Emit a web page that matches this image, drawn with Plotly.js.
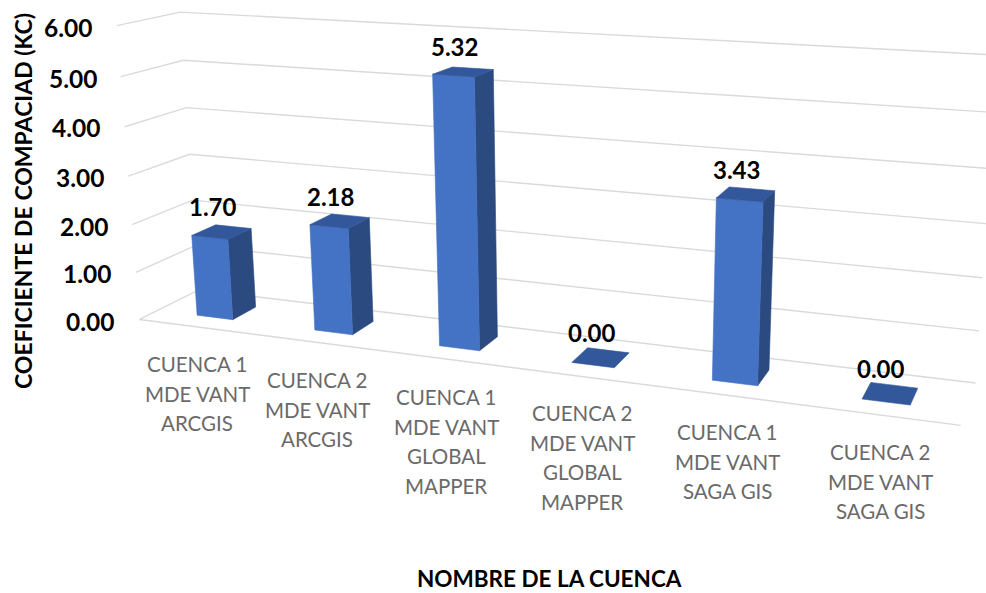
<!DOCTYPE html>
<html><head><meta charset="utf-8">
<script src="https://cdn.plot.ly/plotly-3.0.1.min.js"></script>
<style>html,body{margin:0;padding:0;background:#fff}#c{width:986px;height:593px}</style>
</head><body><div id="c"></div>
<script>
// ---- data ----
const categories = [
  ["CUENCA 1","MDE VANT","ARCGIS"],
  ["CUENCA 2","MDE VANT","ARCGIS"],
  ["CUENCA 1","MDE VANT","GLOBAL","MAPPER"],
  ["CUENCA 2","MDE VANT","GLOBAL","MAPPER"],
  ["CUENCA 1","MDE VANT","SAGA GIS"],
  ["CUENCA 2","MDE VANT","SAGA GIS"]
];
const values = [1.70, 2.18, 5.32, 0.00, 3.43, 0.00];
const yTicks = [0,1,2,3,4,5,6];
const yTitle = "COEFICIENTE DE COMPACIAD (KC)";
const xTitle = "NOMBRE DE LA CUENCA";

// ---- perspective fitted to the picture: (category frac, value, depth) -> pixel ----
const anchors = [
 [0,0,0,139,319],[1,0,0,961,425],[0,0,1,199.5,290.5],[1,0,1,975,383],
 [0,6,0,117.5,26],[0,6,1,180,12],[1,6,1,997.5,54.6],
 [0,3,0,128,176.5],[0,3,1,189,153.5],[1,3,1,986.5,224.5]
];
function fit(){
  const A=[],b=[];
  anchors.forEach(([X,Y,Z,u0,v0])=>{
    const u=u0/1000,v=v0/1000,Yn=Y/6;
    A.push([X,Yn,Z,1,0,0,0,0,-u*X,-u*Yn,-u*Z]);b.push(u);
    A.push([0,0,0,0,X,Yn,Z,1,-v*X,-v*Yn,-v*Z]);b.push(v);
  });
  const n=11,M=[];
  for(let i=0;i<n;i++){M.push([]);for(let j=0;j<=n;j++){let s=0;
    for(let r=0;r<A.length;r++)s+=A[r][i]*(j<n?A[r][j]:b[r]);M[i].push(s);}}
  for(let i=0;i<n;i++){let p=i;for(let r=i+1;r<n;r++)if(Math.abs(M[r][i])>Math.abs(M[p][i]))p=r;
    [M[i],M[p]]=[M[p],M[i]];
    for(let r=0;r<n;r++)if(r!==i){const f=M[r][i]/M[i][i];for(let c=i;c<=n;c++)M[r][c]-=f*M[i][c];}}
  return M.map((row,i)=>row[n]/row[i]);
}
const P=fit();
function proj(X,Y,Z){
  const Yn=Y/6,w=P[8]*X+P[9]*Yn+P[10]*Z+1;
  return [1000*(P[0]*X+P[1]*Yn+P[2]*Z+P[3])/w,1000*(P[4]*X+P[5]*Yn+P[6]*Z+P[7])/w];
}
const barW=0.0515, zF=0.30, zB=0.71;
const cFront="#4472C4", cSide="#2B4A80", cTop="#32579A";
const traces=[], ann=[];
function poly(pts,fill,lw,lc){
  const xs=pts.map(p=>p[0]),ys=pts.map(p=>p[1]);
  traces.push(fill?{x:xs.concat(xs[0]),y:ys.concat(ys[0]),mode:"lines",fill:"toself",fillcolor:fill,
      line:{color:fill,width:0.6},hoverinfo:"skip",showlegend:false}
    :{x:xs,y:ys,mode:"lines",line:{color:lc,width:lw},hoverinfo:"skip",showlegend:false});
}
const gridC="#DADADA";
yTicks.forEach(v=>poly([proj(0,v,0),proj(0,v,1),proj(1,v,1)],null,1.4,gridC));
poly([proj(0,0,0),proj(1,0,0)],null,1.4,gridC);

values.forEach((v,i)=>{
  const c=(i+0.5)/6,x0=c-barW/2,x1=c+barW/2;
  if(v>0){
    poly([proj(x1,0,zF),proj(x1,0,zB),proj(x1,v,zB),proj(x1,v,zF)],cSide);
    poly([proj(x0,0,zF),proj(x1,0,zF),proj(x1,v,zF),proj(x0,v,zF)],cFront);
  }
  poly([proj(x0,v,zF),proj(x1,v,zF),proj(x1,v,zB),proj(x0,v,zB)],cTop);
  const t=proj(c,v,(zF+zB)/2);
  ann.push({x:t[0]-9,y:t[1]-25,text:"<b>"+v.toFixed(2)+"</b>",font:{size:24,color:"#000",family:"Lato"}});
});

// ---- text placement ----
const tickX=[68,72.5,76,80,84,86.5,90], tickY=[27,78,127,177,226,273,321].slice().reverse();
yTicks.forEach((t,i)=>{
  const k=yTicks.length-1-i;
  ann.push({x:tickX[k],y:tickY[i],text:"<b>"+t.toFixed(2)+"</b>",font:{size:24.5,color:"#000",family:"Lato"}});
});
const catCX=[197,317,446,582,727,880], catY0=[364,380,397,413,432,452], lineStep=29.6;
categories.forEach((lines,i)=>lines.forEach((s,j)=>{
  ann.push({x:catCX[i],y:catY0[i]+j*lineStep,text:s,font:{size:20.5,color:"#6A6A6A",family:"Lato"}});
}));
ann.push({x:23,y:201,text:"<b>"+yTitle+"</b>",textangle:-90,font:{size:23,color:"#000",family:"Lato"}});
ann.push({x:549,y:578,text:"<b>"+xTitle+"</b>",font:{size:22.5,color:"#000",family:"Lato"}});
ann.forEach(a=>Object.assign(a,{xref:"x",yref:"y",showarrow:false,xanchor:"center",yanchor:"middle"}));

Plotly.newPlot("c",traces,{
  width:986,height:593,margin:{l:0,r:0,t:0,b:0},showlegend:false,
  paper_bgcolor:"#fff",plot_bgcolor:"#fff",
  xaxis:{range:[0,986],visible:false,fixedrange:true},
  yaxis:{range:[593,0],visible:false,fixedrange:true},
  annotations:ann
},{displayModeBar:false,staticPlot:true});
</script></body></html>
